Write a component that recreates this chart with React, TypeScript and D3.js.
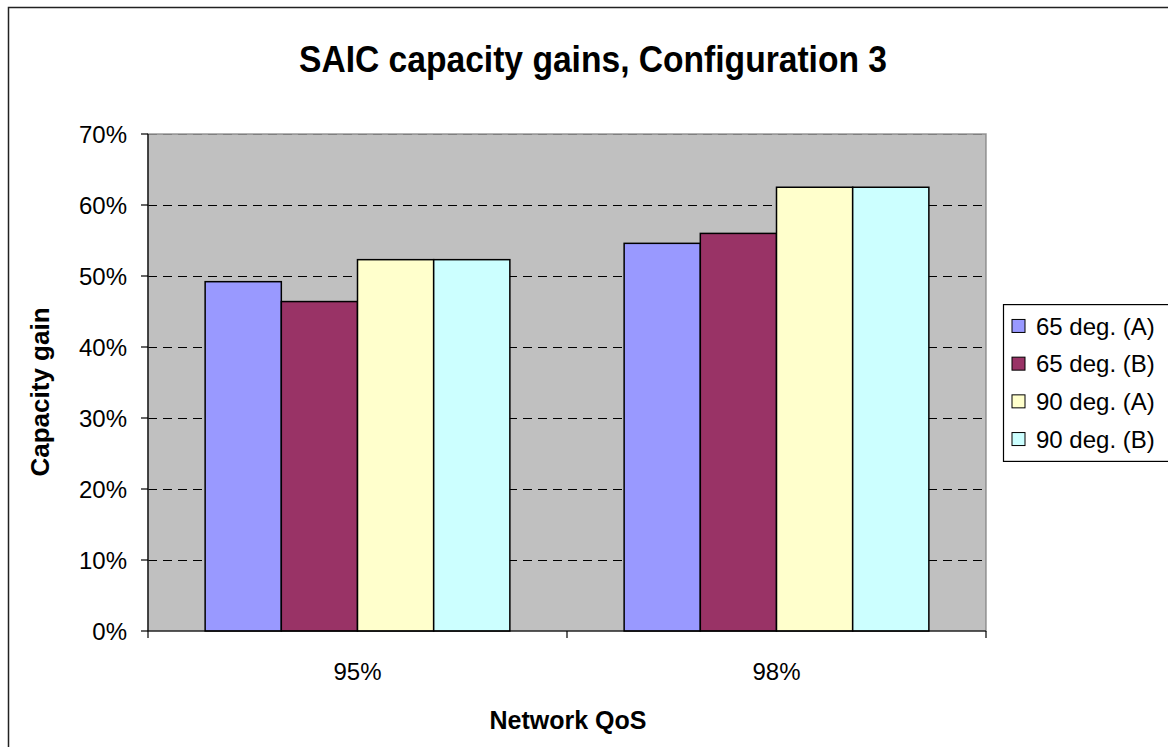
import React from "react";
import * as d3 from "d3";

const categories = ["95%", "98%"];
const seriesNames = ["65 deg. (A)", "65 deg. (B)", "90 deg. (A)", "90 deg. (B)"];
const seriesColors = ["#9999FF", "#993366", "#FFFFCC", "#CCFFFF"];
const series65A = [0.492, 0.546];
const series65B = [0.464, 0.56];
const series90A = [0.523, 0.625];
const series90B = [0.523, 0.625];
const yTicks = [0, 0.1, 0.2, 0.3, 0.4, 0.5, 0.6, 0.7];

const W = 1168;
const H = 747;
const plot = { left: 148, right: 986, top: 134, bottom: 631 };
const FONT = "'Liberation Sans', Arial, sans-serif";

export default function App() {
  const seriesValues = [series65A, series65B, series90A, series90B];
  const x0 = d3
    .scaleBand<string>()
    .domain(categories)
    .range([plot.left, plot.right])
    .paddingInner(0)
    .paddingOuter(0);
  const bw = x0.bandwidth();
  // Excel gap width 150%: 4 bars + 1.5 bar gap
  const barW = bw / (seriesNames.length + 1.5);
  const x1 = d3
    .scaleBand<number>()
    .domain(d3.range(seriesNames.length))
    .range([0, barW * seriesNames.length])
    .padding(0);
  const y = d3.scaleLinear().domain([0, 0.7]).range([plot.bottom, plot.top]);
  const fmt = d3.format(".0%");

  const legendX = 1003;
  const rowH = 37.7;
  const legendH = rowH * 4 + 6;
  const legendY = (plot.top + plot.bottom) / 2 - legendH / 2;

  return (
    <svg
      width={W}
      height={H}
      style={{ position: "absolute", left: 0, top: 0, background: "#fff" }}
      fontFamily={FONT}
    >
      <rect x={0} y={0} width={W} height={H} fill="#fff" />
      <rect x={8.5} y={7.5} width={W + 20} height={H + 20} fill="none" stroke="#222" strokeWidth={1.5} />
      <text
        x={593}
        y={72}
        textAnchor="middle"
        fontSize={36}
        fontWeight="bold"
        fill="#000"
        textLength={588}
        lengthAdjust="spacingAndGlyphs"
      >
        SAIC capacity gains, Configuration 3
      </text>
      {/* plot area */}
      <rect
        x={plot.left}
        y={plot.top}
        width={plot.right - plot.left}
        height={plot.bottom - plot.top}
        fill="#C0C0C0"
      />
      {yTicks.slice(1).map((t) => (
        <line
          key={"g" + t}
          x1={plot.left}
          x2={plot.right}
          y1={Math.round(y(t)) + 0.5}
          y2={Math.round(y(t)) + 0.5}
          stroke={t === 0.7 ? "#808080" : "#000"}
          strokeWidth={1}
          strokeDasharray="9,6"
        />
      ))}
      <rect
        x={plot.left}
        y={plot.top}
        width={plot.right - plot.left}
        height={plot.bottom - plot.top}
        fill="none"
        stroke="#808080"
        strokeOpacity={0.8}
        strokeWidth={1.5}
      />
      {/* bars */}
      {categories.map((c, ci) => {
        const gx = (x0(c) as number) + (bw - barW * seriesNames.length) / 2;
        return seriesValues.map((vals, si) => (
          <rect
            key={c + si}
            x={gx + (x1(si) as number)}
            y={y(vals[ci])}
            width={x1.bandwidth()}
            height={plot.bottom - y(vals[ci])}
            fill={seriesColors[si]}
            stroke="#000"
            strokeWidth={1.5}
          />
        ));
      })}
      {/* axes */}
      <line x1={plot.left} x2={plot.left} y1={plot.top} y2={plot.bottom} stroke="#000" strokeWidth={1.2} />
      <line x1={plot.left} x2={plot.right} y1={plot.bottom} y2={plot.bottom} stroke="#000" strokeWidth={1.2} />
      {yTicks.map((t) => (
        <g key={"yt" + t}>
          <line x1={plot.left - 7} x2={plot.left} y1={y(t)} y2={y(t)} stroke="#000" strokeWidth={1.2} />
          <text x={127} y={y(t)} dy="0.36em" textAnchor="end" fontSize={24} fill="#000">
            {fmt(t)}
          </text>
        </g>
      ))}
      {[plot.left, ...categories.map((c) => (x0(c) as number) + bw)].map((xv, i) => (
        <line key={"xt" + i} x1={xv} x2={xv} y1={plot.bottom} y2={plot.bottom + 7} stroke="#000" strokeWidth={1.2} />
      ))}
      {categories.map((c) => (
        <text
          key={"xl" + c}
          x={(x0(c) as number) + bw / 2}
          y={671}
          dy="0.36em"
          textAnchor="middle"
          fontSize={24}
          fill="#000"
        >
          {c}
        </text>
      ))}
      <text x={568} y={720} dy="0.36em" textAnchor="middle" fontSize={25} fontWeight="bold" fill="#000">
        Network QoS
      </text>
      <text
        transform={`translate(40,${392}) rotate(-90)`}
        dy="0.36em"
        textAnchor="middle"
        fontSize={26}
        fontWeight="bold"
        fill="#000"
      >
        Capacity gain
      </text>
      {/* legend */}
      <rect x={legendX + 0.5} y={legendY + 0.5} width={W} height={legendH} fill="#fff" stroke="#000" strokeWidth={1.2} />
      {seriesNames.map((n, i) => (
        <g key={n} transform={`translate(${legendX + 9},${legendY + 3 + rowH / 2 + i * rowH})`}>
          <rect x={0} y={-6.5} width={13} height={13} fill={seriesColors[i]} stroke="#000" strokeWidth={1} />
          <text x={24} y={0} dy="0.36em" fontSize={24} fill="#000">
            {n}
          </text>
        </g>
      ))}
    </svg>
  );
}
